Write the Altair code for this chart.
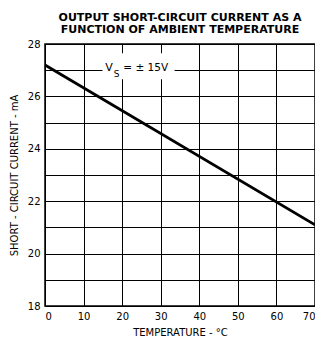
import altair as alt
import pandas as pd

temps = [0, 70]
current = [27.2, 21.1]

y_ticks = list(range(18, 29))
x_ticks = list(range(0, 71, 10))

title_lines = ["OUTPUT SHORT-CIRCUIT CURRENT AS A", "FUNCTION OF AMBIENT TEMPERATURE"]
x_title = "TEMPERATURE - °C"
y_title = "SHORT - CIRCUIT CURRENT - mA"

# annotation
ann_box = pd.DataFrame({"T": [14.9], "T2": [33.6], "I": [26.65], "I2": [27.65]})
ann_v = pd.DataFrame({"T": [15.6], "I": [27.07], "t": ["V"]})
ann_s = pd.DataFrame({"T": [17.8], "I": [26.86], "t": ["S"]})
ann_rest = pd.DataFrame({"T": [20.3], "I": [27.1], "t": ["=  ±  15V"]})

df = pd.DataFrame({"T": temps, "I": current})

xs = alt.Scale(domain=[0, 70], nice=False)
ys = alt.Scale(domain=[18, 28], nice=False)

font = "DejaVu Sans"

xaxis = alt.Axis(values=x_ticks, title=x_title, grid=True, gridColor="black",
                 gridOpacity=1, gridWidth=1, ticks=False, domain=False,
                 labelOverlap=False,
                 labelFont=font, labelFontSize=10, labelColor="black",
                 labelPadding=5, titleFont=font, titleFontSize=10,
                 titleFontWeight="normal", titleColor="black", titlePadding=6)
yaxis = alt.Axis(values=y_ticks, title=y_title, grid=True, gridColor="black",
                 gridOpacity=1, gridWidth=1, ticks=False, domain=False,
                 labelOverlap=False,
                 labelExpr="datum.value % 2 == 0 ? datum.label : ''",
                 labelFont=font, labelFontSize=10, labelColor="black",
                 labelPadding=5, titleFont=font, titleFontSize=10,
                 titleFontWeight="normal", titleColor="black", titlePadding=8)

X = alt.X("T:Q", scale=xs, axis=xaxis)
Y = alt.Y("I:Q", scale=ys, axis=yaxis)

line = alt.Chart(df).mark_line(color="black", strokeWidth=2.8).encode(x=X, y=Y)

box = alt.Chart(ann_box).mark_rect(color="white").encode(
    x=X, x2="T2:Q", y=Y, y2="I2:Q")
tv = alt.Chart(ann_v).mark_text(font=font, fontSize=11, align="left", color="black").encode(
    x=X, y=Y, text="t:N")
ts = alt.Chart(ann_s).mark_text(font=font, fontSize=9, align="left", color="black").encode(
    x=X, y=Y, text="t:N")
tr = alt.Chart(ann_rest).mark_text(font=font, fontSize=10.5, align="left", color="black").encode(
    x=X, y=Y, text="t:N")

chart = alt.layer(line, box, tv, ts, tr).properties(
    width=270, height=262,
    autosize=alt.AutoSizeParams(type="none"),
    padding={"left": 37, "top": 36, "right": 0, "bottom": 32},
    title=alt.TitleParams(title_lines, font=font, fontSize=11, fontWeight="bold",
                          color="black", anchor="middle", offset=4, lineHeight=12),
).configure_view(stroke="black", strokeWidth=1.5).configure_axis(labelAngle=0)

chart.save("out.html", embed_options={"renderer": "svg", "actions": False})
